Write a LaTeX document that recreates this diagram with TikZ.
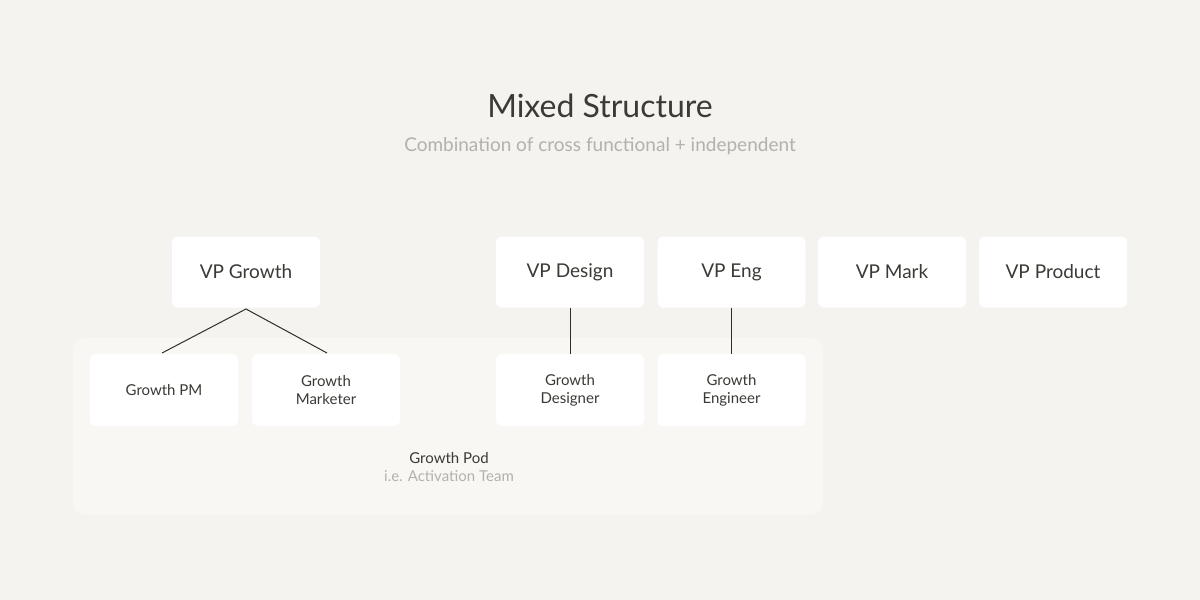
\documentclass[tikz,border=0pt]{standalone}
\usepackage{fontspec}
\setmainfont{Lato}
\definecolor{bg}{HTML}{F4F3EF}
\definecolor{pod}{HTML}{F8F7F4}
\definecolor{ink}{HTML}{3A3A36}
\definecolor{sub}{HTML}{B3B1AB}
\definecolor{ln}{HTML}{2E2E2A}
\begin{document}
\begin{tikzpicture}[x=1pt,y=-1pt,
  box/.style={fill=white,rounded corners=6pt,minimum width=148pt,minimum height=71pt,inner sep=0pt,align=center,text=ink},
  vp/.style={box,font=\fontsize{19}{22}\selectfont},
  sm/.style={box,font=\fontsize{15}{18}\selectfont,minimum height=72pt},
  con/.style={draw=ln,line width=1pt}]
\fill[bg] (0,0) rectangle (1200,600);
\useasboundingbox (0,0) rectangle (1200,600);
\fill[pod,rounded corners=12pt] (73,338) rectangle (823,515);
\node[font=\fontsize{32}{36}\selectfont,text=ink] (title) at (600,106) {Mixed Structure};
\node[font=\fontsize{19}{22}\selectfont,text=sub] (subt) at (600,146) {Combination of cross functional + independent};
\node[vp] (vpg) at (246,272) {VP Growth};
\node[vp] (vpd) at (570,272) {VP Design};
\node[vp] (vpe) at (731.5,272) {VP Eng};
\node[vp] (vpm) at (892,272) {VP Mark};
\node[vp] (vpp) at (1053,272) {VP Product};
\node[sm] (gpm) at (164,390) {Growth PM};
\node[sm] (gmk) at (326,390) {Growth\\Marketer};
\node[sm] (gds) at (570,390) {Growth\\Designer};
\node[sm] (gen) at (731.5,390) {Growth\\Engineer};
\node[font=\fontsize{15}{18}\selectfont,text=ink] (podt) at (449,458) {Growth Pod};
\node[font=\fontsize{15}{18}\selectfont,text=sub] (pods) at (449,476) {i.e. Activation Team};
\coordinate (vpgb) at (246,309);
\coordinate (gpmt) at (162,353);
\coordinate (gmkt) at (327,353);
\draw[con] (gpmt) -- (vpgb) -- (gmkt);
\draw[con] (vpd.south) -- (gds.north);
\draw[con] (vpe.south) -- (gen.north);
\end{tikzpicture}
\end{document}
